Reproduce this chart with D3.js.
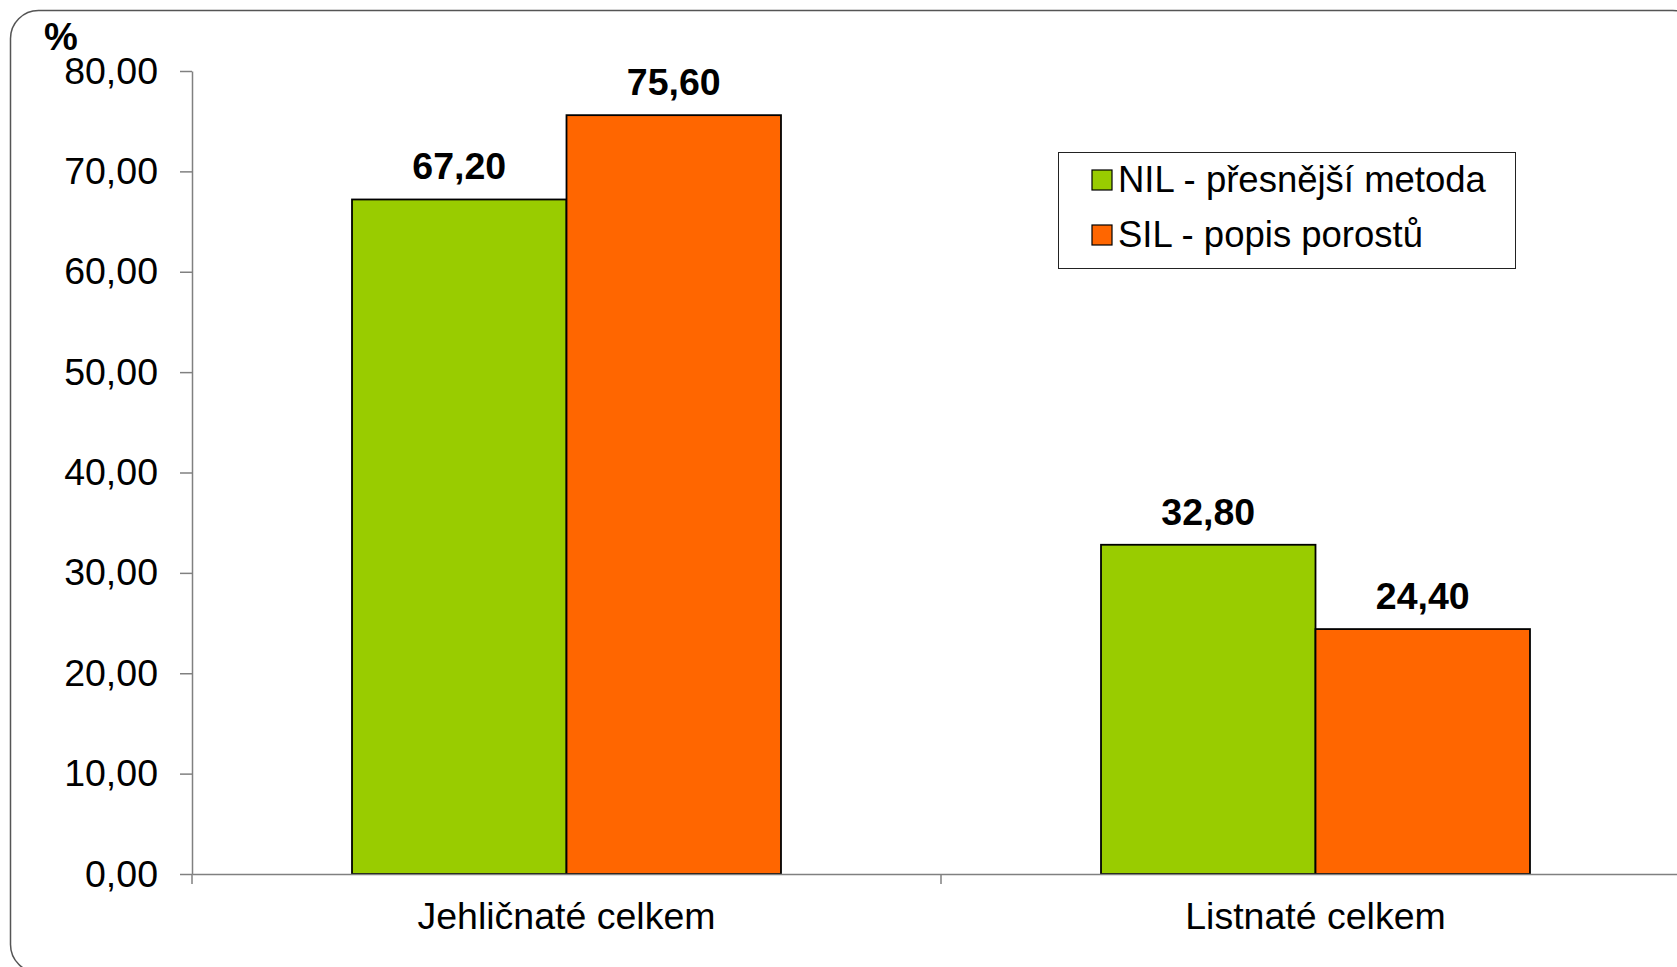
<!DOCTYPE html>
<html>
<head>
<meta charset="utf-8">
<script src="https://cdn.jsdelivr.net/npm/d3@7/dist/d3.min.js"></script>
<style>
  html, body { margin: 0; padding: 0; background: #fff; }
  svg { display: block; }
  text { font-family: "Liberation Sans", Arial, sans-serif; }
</style>
</head>
<body>
<svg id="chart" width="1677" height="967"></svg>
<script>
const categories = ["Jehličnaté celkem", "Listnaté celkem"];
const seriesNames = ["NIL - přesnější metoda", "SIL - popis porostů"];
const seriesColors = ["#99CC00", "#FF6600"];
const nilValues = [67.20, 32.80];
const silValues = [75.60, 24.40];
const yTicks = [0, 10, 20, 30, 40, 50, 60, 70, 80];

const svg = d3.select("#chart");
const fmt = v => d3.format(".2f")(v).replace(".", ",");

// outer rounded frame
svg.append("rect")
  .attr("x", 10.5).attr("y", 10.5)
  .attr("width", 1690).attr("height", 962)
  .attr("rx", 28).attr("ry", 28)
  .attr("fill", "#fff").attr("stroke", "#555").attr("stroke-width", 1.5);

const plot = { left: 192, right: 1690, top: 71, bottom: 874 };

const y = d3.scaleLinear().domain([0, 80]).range([plot.bottom, plot.top]);
const x0 = d3.scaleBand().domain(categories).range([plot.left, plot.right]).padding(0);
const x1 = d3.scaleBand().domain(seriesNames).range([0, x0.bandwidth()])
  .paddingInner(0).paddingOuter(0.746);

// y axis
const yAxis = d3.axisLeft(y).tickValues(yTicks).tickSize(12).tickSizeOuter(0).tickFormat(fmt).tickPadding(22);
const gy = svg.append("g").attr("transform", `translate(${plot.left},0)`).call(yAxis);
gy.select(".domain").attr("stroke", "#808080").attr("stroke-width", 1.5);
gy.selectAll(".tick line").attr("stroke", "#808080").attr("stroke-width", 1.5);
gy.selectAll(".tick text").attr("font-size", 37.5).attr("fill", "#000")
  .attr("font-family", "'Liberation Sans', Arial, sans-serif");

// bars
const data = categories.map((c, i) => ({ cat: c, vals: [nilValues[i], silValues[i]] }));
const groups = svg.append("g").selectAll("g").data(data).join("g")
  .attr("transform", d => `translate(${x0(d.cat)},0)`);

groups.selectAll("rect").data(d => d.vals.map((v, j) => ({ v, s: seriesNames[j], c: seriesColors[j] })))
  .join("rect")
  .attr("x", d => x1(d.s))
  .attr("y", d => y(d.v))
  .attr("width", x1.bandwidth())
  .attr("height", d => y(0) - y(d.v))
  .attr("fill", d => d.c)
  .attr("stroke", "#000").attr("stroke-width", 1.8);

groups.selectAll("text.val").data(d => d.vals.map((v, j) => ({ v, s: seriesNames[j] })))
  .join("text").attr("class", "val")
  .attr("x", d => x1(d.s) + x1.bandwidth() / 2)
  .attr("y", d => y(d.v) - 20)
  .attr("text-anchor", "middle")
  .attr("font-size", 37.5).attr("font-weight", "bold").attr("fill", "#000")
  .text(d => fmt(d.v));

// x axis
const xAxis = d3.axisBottom(x0).tickSize(0).tickSizeOuter(0).tickPadding(0);
const gx = svg.append("g").attr("transform", `translate(0,${plot.bottom})`).call(xAxis);
gx.select(".domain").attr("stroke", "#808080").attr("stroke-width", 1.5);
gx.selectAll(".tick line").remove();
gx.selectAll(".tick text").attr("font-size", 37.5).attr("fill", "#000")
  .attr("font-family", "'Liberation Sans', Arial, sans-serif")
  .attr("dy", null).attr("y", 55);
// category boundary ticks
const bounds = categories.map(c => x0(c)).concat([plot.right]);
gx.selectAll("line.bt").data(bounds).join("line").attr("class", "bt")
  .attr("x1", d => d).attr("x2", d => d).attr("y1", 0).attr("y2", 10)
  .attr("stroke", "#808080").attr("stroke-width", 1.5);

// % label
svg.append("text").attr("x", 44).attr("y", 50)
  .attr("font-size", 38).attr("font-weight", "bold").attr("fill", "#000").text("%");

// legend
const lg = svg.append("g").attr("transform", "translate(1058,152)");
lg.append("rect").attr("x", 0.5).attr("y", 0.5).attr("width", 457).attr("height", 116)
  .attr("fill", "#fff").attr("stroke", "#222").attr("stroke-width", 1);
seriesNames.forEach((s, i) => {
  lg.append("rect").attr("x", 34).attr("y", 18 + i * 55).attr("width", 20).attr("height", 20)
    .attr("fill", seriesColors[i]).attr("stroke", "#000").attr("stroke-width", 1.2);
  lg.append("text").attr("x", 60).attr("y", 40 + i * 55)
    .attr("font-size", 36.5).attr("fill", "#000").text(s);
});
</script>
</body>
</html>
